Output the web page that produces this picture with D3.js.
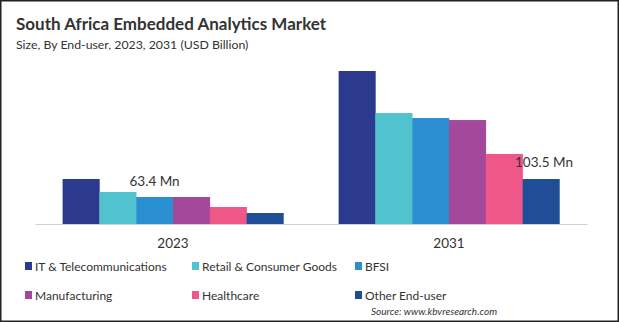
<!DOCTYPE html>
<html>
<head>
<meta charset="utf-8">
<script src="https://cdn.jsdelivr.net/npm/d3@7"></script>
<style>
  body { margin: 0; background: #fff; }
  svg text { font-family: Lato, "Open Sans", sans-serif; fill: #333; }
</style>
</head>
<body>
<div id="chart"></div>
<script>
// data (USD Million)
var years = ["2023", "2031"];
var segments = ["IT & Telecommunications", "Retail & Consumer Goods", "BFSI",
                "Manufacturing", "Healthcare", "Other End-user"];
var values2023 = [103.5, 73.6, 62.1, 62.1, 39.1, 25.3];
var values2031 = [352.0, 255.3, 243.8, 239.2, 161.0, 103.5];
var colors = ["#2c3a8e", "#50c3cf", "#2a8fd0", "#a4489c", "#ee5787", "#1f4e97"];
var labels = [{ year: "2023", text: "63.4 Mn" }, { year: "2031", text: "103.5 Mn" }];

var W = 619, H = 322;
var svg = d3.select("#chart").append("svg").attr("width", W).attr("height", H);

svg.append("rect").attr("x", 0.75).attr("y", 0.75).attr("width", W - 1.5).attr("height", H - 1.5)
  .attr("fill", "#fff").attr("stroke", "#222").attr("stroke-width", 1.5);

svg.append("text").attr("x", 16).attr("y", 30)
  .style("font-size", "17px").style("font-weight", "bold")
  .text("South Africa Embedded Analytics Market");
svg.append("text").attr("x", 16).attr("y", 49)
  .style("font-size", "12.3px")
  .text("Size, By End-user, 2023, 2031 (USD Billion)");

var series = { "2023": values2023, "2031": values2031 };

var x0 = d3.scaleBand().domain(years).range([35, 587]).paddingInner(0.2).paddingOuter(0.1);
var x1 = d3.scaleBand().domain(segments).range([0, x0.bandwidth()]);
var y = d3.scaleLinear().domain([0, 352]).range([224, 71]);

var group = svg.selectAll(".grp").data(years).enter().append("g")
  .attr("class", "grp")
  .attr("transform", function(d) { return "translate(" + x0(d) + ",0)"; });

group.selectAll("rect").data(function(yr) {
    return segments.map(function(s, i) { return { seg: s, v: series[yr][i], i: i }; });
  }).enter().append("rect")
  .attr("x", function(d) { return x1(d.seg); })
  .attr("y", function(d) { return y(d.v); })
  .attr("width", x1.bandwidth() + 0.3)
  .attr("height", function(d) { return y(0) - y(d.v); })
  .attr("fill", function(d) { return colors[d.i]; });

// axis
var axis = svg.append("g").attr("transform", "translate(0," + y(0) + ")")
  .call(d3.axisBottom(x0).tickSize(0).tickPadding(14));
axis.select(".domain").attr("stroke", "#d0d0d0");
axis.selectAll("text").style("font-size", "13.5px").style("font-family", "Lato, sans-serif").attr("fill", "#333");

// value labels
svg.append("text").attr("x", x0("2023") + x1.bandwidth() * 2.5).attr("y", 186)
  .attr("text-anchor", "middle").style("font-size", "13.5px").text(labels[0].text);
svg.append("text").attr("x", x0("2031") + x1("Other End-user") + x1.bandwidth() / 2 + 3).attr("y", 167)
  .attr("text-anchor", "middle").style("font-size", "13.5px").text(labels[1].text);

// legend
var legCols = [25, 192, 355];
var legRows = [266, 295];
var leg = svg.selectAll(".leg").data(segments).enter().append("g")
  .attr("class", "leg")
  .attr("transform", function(d, i) {
    return "translate(" + legCols[i % 3] + "," + legRows[Math.floor(i / 3)] + ")";
  });
leg.append("rect").attr("x", 0).attr("y", -4).attr("width", 7).attr("height", 8)
  .attr("fill", function(d, i) { return colors[i]; });
leg.append("text").attr("x", 10).attr("y", 5).style("font-size", "12px")
  .text(function(d) { return d; });

svg.append("text").attr("x", 497).attr("y", 315).attr("text-anchor", "end")
  .style("font-size", "10px").style("font-style", "italic")
  .text("Source: www.kbvresearch.com");
</script>
</body>
</html>
